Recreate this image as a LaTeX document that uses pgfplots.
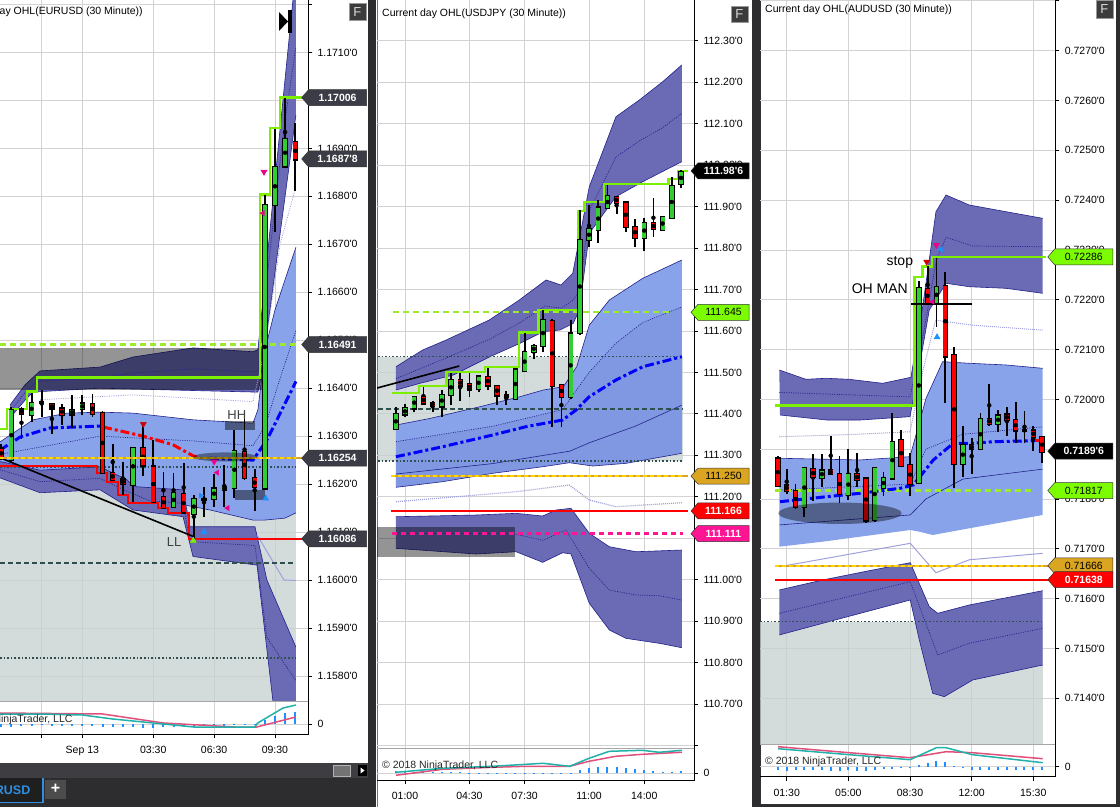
\documentclass[border=0pt]{standalone}
\usepackage{fontspec}
\setmainfont{Liberation Sans}
\usepackage{pgfplots}
\usepackage{pgfplotstable}
\pgfplotsset{compat=1.18}

\definecolor{navyf}{HTML}{6A6AB5}
\definecolor{navyl}{HTML}{22228C}
\definecolor{lblue}{HTML}{89A3EA}
\definecolor{lgrayz}{HTML}{C6D0D0}
\definecolor{cgreen}{HTML}{32CD32}
\definecolor{cred}{HTML}{FF0000}
\definecolor{limec}{HTML}{7CF000}
\definecolor{limed}{HTML}{9AEC2A}
\definecolor{limetag}{HTML}{7CFC00}
\definecolor{goldc}{HTML}{DAA520}
\definecolor{yelc}{HTML}{FFD700}
\definecolor{slate}{HTML}{2F4F4F}
\definecolor{dblue}{HTML}{0000FF}
\definecolor{tagg}{HTML}{3C3C46}
\definecolor{tealc}{HTML}{20B2AA}
\definecolor{pinkc}{HTML}{E0507A}
\definecolor{hist}{HTML}{1E90FF}
\definecolor{gridc}{HTML}{D3D3D3}
\definecolor{lav}{HTML}{A0A0DC}
\definecolor{dpink}{HTML}{FF1493}
\definecolor{uibg}{HTML}{2D2D30}
\definecolor{uiscroll}{HTML}{3E3E42}
\definecolor{tabblue}{HTML}{2F8FE0}
\definecolor{fboxc}{HTML}{3C3C3C}

\newcommand{\q}{\textquotesingle}
\newcommand{\tk}{\fontsize{10.5}{12}\selectfont}

\pgfplotsset{
 cwick/.style={only marks, mark=none, error bars/.cd, y dir=both, y explicit, error mark=none, error bar style={draw=black, line width=1.8pt}},
 cbody/.style 2 args={only marks, mark=none, error bars/.cd, y dir=both, y explicit, error mark=none, error bar style={draw=#1, line width=#2}},
 mainax/.style={scale only axis, anchor=south west, clip mode=individual,
   axis line style={draw=none}, xtick style={draw=none}, xticklabels={}, scaled ticks=false,
   ytick pos=right, yticklabel pos=right, tick align=outside, major tick length=4pt,
   ytick style={draw=black, line width=0.8pt},
   grid=major, major grid style={draw=gridc, line width=0.8pt},
   tick label style={font=\tk, text=black},
   yticklabel style={anchor=west, xshift=2pt}},
 indax/.style={scale only axis, anchor=south west, clip mode=individual,
   axis line style={draw=none}, ytick={0}, yticklabels={0}, scaled ticks=false,
   ytick pos=right, yticklabel pos=right, xtick pos=left, tick align=outside, major tick length=4pt,
   tick style={draw=black, line width=0.8pt},
   grid=major, major grid style={draw=gridc, line width=0.8pt},
   tick label style={font=\tk, text=black},
   yticklabel style={anchor=west, xshift=2pt},
   xticklabel style={yshift=-5pt}},
 bandl/.style={draw=navyl, line width=0.6pt},
 dotl/.style={draw=navyl, line width=0.7pt, dash pattern=on 1pt off 1.3pt},
 lvgreen/.style={draw=limed, line width=2.2pt, dash pattern=on 6pt off 4pt},
 lvgold/.style={draw=goldc, line width=2.4pt},
 lvyel/.style={draw=yelc, line width=2.4pt, dash pattern=on 4pt off 3pt},
 lvred/.style={draw=cred, line width=2pt},
 lvslate/.style={draw=slate, line width=1.6pt, dash pattern=on 5pt off 3pt},
 lvdot/.style={draw=slate, line width=1.6pt, dash pattern=on 1.6pt off 2pt},
 ddot/.style={line width=3pt, dash pattern=on 9pt off 3pt on 3pt off 3pt},
 stepl/.style={draw=limec, line width=2.4pt},
}

\newcommand{\candles}[3]{%
 \addplot[cwick] table[x=x,y expr={(\thisrow{h}+\thisrow{l})/2},y error expr={(\thisrow{h}-\thisrow{l})/2}]{#1};
 \addplot[cwick] table[x=x,y expr={(\thisrow{h}+\thisrow{l})/2},y error expr={(\thisrow{h}-\thisrow{l})/2}]{#2};
 \addplot[cbody={black}{5.4pt}] table[x=x,y expr={(\thisrow{o}+\thisrow{c})/2},y error expr={abs(\thisrow{c}-\thisrow{o})/2+#3}]{#1};
 \addplot[cbody={black}{5.4pt}] table[x=x,y expr={(\thisrow{o}+\thisrow{c})/2},y error expr={abs(\thisrow{c}-\thisrow{o})/2+#3}]{#2};
 \addplot[cbody={cgreen}{3.8pt}] table[x=x,y expr={(\thisrow{o}+\thisrow{c})/2},y error expr={abs(\thisrow{c}-\thisrow{o})/2}]{#1};
 \addplot[cbody={cred}{3.8pt}] table[x=x,y expr={(\thisrow{o}+\thisrow{c})/2},y error expr={abs(\thisrow{c}-\thisrow{o})/2}]{#2};
}
% x, y, fill, text colour, text, tip offset, right extent
\newcommand{\ptag}[7]{%
 \path[fill=#3, draw=black!80, line width=0.5pt] ([xshift=-#6]axis cs:#1,#2) -- ([xshift=-#6+7pt, yshift=8pt]axis cs:#1,#2) -- ([xshift=#7, yshift=8pt]axis cs:#1,#2) -- ([xshift=#7, yshift=-8pt]axis cs:#1,#2) -- ([xshift=-#6+7pt, yshift=-8pt]axis cs:#1,#2) -- cycle;
 \node[text=#4, font=\tk, inner sep=0pt] at ([xshift=(#7-#6+7pt)/2]axis cs:#1,#2) {#5};
}

% ================= EURUSD candles
\pgfplotstableread{
x o h l c
-7 1.16251 1.16362 1.16245 1.16355
-5 1.16346 1.16390 1.16331 1.16370
-1 1.16346 1.16386 1.16317 1.16355
0 1.16357 1.16386 1.16345 1.16369
5 1.16199 1.16277 1.16164 1.16275
9 1.16152 1.16223 1.16150 1.16182
11 1.16139 1.16178 1.16087 1.16169
12 1.16169 1.16195 1.16132 1.16169
13 1.16171 1.16223 1.16153 1.16192
14 1.16189 1.16240 1.16153 1.16194
15 1.16192 1.16313 1.16171 1.16268
18 1.16192 1.16804 1.16190 1.16782
19 1.16783 1.16940 1.16727 1.16862
20 1.16863 1.17006 1.16863 1.16920
}\eurUp
\pgfplotstableread{
x o h l c
-8 1.16275 1.16285 1.16250 1.16255
-6 1.16357 1.16362 1.16296 1.16348
-4 1.16372 1.16397 1.16341 1.16369
-3 1.16367 1.16369 1.16306 1.16359
-2 1.16359 1.16369 1.16324 1.16346
1 1.16369 1.16389 1.16341 1.16348
2 1.16348 1.16352 1.16220 1.16224
3 1.16224 1.16286 1.16209 1.16209
4 1.16210 1.16247 1.16178 1.16201
6 1.16276 1.16324 1.16219 1.16240
7 1.16237 1.16292 1.16164 1.16164
8 1.16174 1.16226 1.16150 1.16152
10 1.16181 1.16244 1.16143 1.16143
16 1.16268 1.16336 1.16209 1.16213
17 1.16213 1.16231 1.16143 1.16194
21 1.16914 1.16954 1.16811 1.16878
}\eurDn
% ================= USDJPY candles
\pgfplotstableread{
x o h l c
-1 111.364 111.417 111.363 111.400
0 111.400 111.426 111.394 111.414
1 111.414 111.443 111.404 111.441
4 111.418 111.458 111.393 111.446
5 111.446 111.498 111.422 111.482
8 111.460 111.492 111.454 111.490
12 111.438 111.510 111.437 111.508
13 111.504 111.595 111.503 111.550
14 111.550 111.567 111.532 111.564
15 111.566 111.651 111.551 111.627
18 111.442 111.627 111.438 111.595
19 111.595 111.892 111.590 111.819
20 111.819 111.906 111.803 111.845
21 111.845 111.916 111.813 111.898
22 111.898 111.952 111.896 111.925
26 111.825 111.875 111.794 111.861
28 111.845 111.878 111.845 111.875
29 111.874 111.972 111.872 111.950
30 111.956 111.988 111.944 111.984
}\jpyUp
\pgfplotstableread{
x o h l c
2 111.441 111.466 111.422 111.426
3 111.426 111.432 111.406 111.420
6 111.482 111.498 111.430 111.469
7 111.472 111.498 111.441 111.460
9 111.490 111.512 111.458 111.469
10 111.469 111.470 111.422 111.446
11 111.446 111.454 111.422 111.441
16 111.625 111.630 111.369 111.469
17 111.469 111.473 111.370 111.442
23 111.924 111.925 111.884 111.910
24 111.910 111.912 111.839 111.851
25 111.851 111.872 111.803 111.825
27 111.861 111.920 111.827 111.846
}\jpyDn
% ================= AUDUSD candles
\pgfplotstableread{
x o h l c
2 0.71784 0.71864 0.71764 0.71863
4 0.71845 0.71891 0.71824 0.71859
7 0.71809 0.71900 0.71799 0.71851
10 0.71758 0.71862 0.71754 0.71861
11 0.71824 0.71856 0.71807 0.71843
12 0.71843 0.71974 0.71839 0.71916
15 0.71832 0.72239 0.71830 0.72224
17 0.72195 0.72283 0.72145 0.72227
20 0.71871 0.71948 0.71845 0.71908
22 0.71901 0.71974 0.71900 0.71961
24 0.71951 0.71978 0.71934 0.71968
27 0.71939 0.71978 0.71914 0.71939
}\audUp
\pgfplotstableread{
x o h l c
-1 0.71881 0.71888 0.71825 0.71827
0 0.71827 0.71861 0.71811 0.71817
1 0.71817 0.71830 0.71781 0.71784
3 0.71861 0.71890 0.71796 0.71845
5 0.71859 0.71928 0.71849 0.71851
6 0.71851 0.71888 0.71794 0.71811
8 0.71851 0.71894 0.71825 0.71839
9 0.71841 0.71844 0.71753 0.71757
13 0.71918 0.71939 0.71865 0.71867
14 0.71869 0.71894 0.71807 0.71831
16 0.72222 0.72269 0.72192 0.72195
18 0.72229 0.72258 0.71995 0.72088
19 0.72090 0.72105 0.71823 0.71871
21 0.71908 0.71923 0.71851 0.71901
23 0.71961 0.72030 0.71946 0.71951
25 0.71970 0.71986 0.71928 0.71959
26 0.71959 0.71996 0.71914 0.71939
28 0.71939 0.71946 0.71896 0.71926
29 0.71924 0.71924 0.71874 0.71894
}\audDn

\begin{document}
\begin{tikzpicture}
\begin{scope}[x=1pt,y=1pt]
\fill[uibg] (0,0) rectangle (1120,807);
\fill[white] (0,44) rectangle (368,807);
\fill[white] (376,0) rectangle (752,807);
\fill[white] (760,2) rectangle (1116,807);
\draw[black!80, line width=1pt] (760.5,2) -- (760.5,807);
\draw[black!80, line width=1pt] (760,2.5) -- (1116,2.5);
\draw[black!55, line width=0.8pt] (377,0) -- (377,807);
\end{scope}

% ================= PANEL 1 : EURUSD =================
\begin{axis}[mainax, at={(0pt,105.3pt)}, width=308pt, height=701.7pt,
  xmin=-8.12, xmax=22.26, ymin=1.157462, ymax=1.172095,
  xtick={-4,0,7,13,19},
  ytick={1.158,1.159,1.160,1.161,1.162,1.163,1.164,1.165,1.166,1.167,1.168,1.169,1.170,1.171,1.172},
  yticklabels={1.1580\q0,1.1590\q0,1.1600\q0,1.1610\q0,1.1620\q0,1.1630\q0,1.1640\q0,1.1650\q0,1.1660\q0,1.1670\q0,1.1680\q0,1.1690\q0,1.1700\q0,1.1710\q0,{}}]
\addplot[fill=lgrayz, fill opacity=0.75, draw=none] coordinates {(-8.2,1.16254) (21.07,1.16254) (21.07,1.1570) (-8.2,1.1570)} -- cycle;
\addplot[fill=lblue, draw=none] coordinates {(-8.12,1.16288) (-4.86,1.16334) (-1.51,1.16348) (1.75,1.16350) (5.0,1.16348) (10.92,1.16334) (16.83,1.16327) (17.32,1.16355) (18.02,1.16480) (19.0,1.16563) (19.99,1.16626) (21.07,1.16694) (21.07,1.16140) (19.99,1.16129) (18.02,1.16125) (16.83,1.16125) (12.59,1.16146) (9.93,1.16157) (5.0,1.16177) (1.75,1.16213) (-3.97,1.16188) (-8.12,1.16219)} -- cycle;
\addplot[bandl] coordinates {(-8.12,1.16288) (-4.86,1.16334) (-1.51,1.16348) (1.75,1.16350) (5.0,1.16348) (10.92,1.16334) (16.83,1.16327) (17.32,1.16355) (18.02,1.16480) (19.0,1.16563) (19.99,1.16626) (21.07,1.16694)};
\addplot[bandl] coordinates {(21.07,1.16140) (19.99,1.16129) (18.02,1.16125) (16.83,1.16125) (12.59,1.16146) (9.93,1.16157) (5.0,1.16177) (1.75,1.16213) (-3.97,1.16188) (-8.12,1.16219)};
\addplot[fill=navyf, draw=none] coordinates {(-7.13,1.16365) (-5.65,1.16407) (-4.17,1.16436) (1.75,1.16444) (5.0,1.16465) (10.92,1.16484) (16.83,1.16476) (17.32,1.16480) (18.02,1.16626) (19.0,1.16834) (19.99,1.17043) (21.07,1.17272) (21.07,1.16970) (20.48,1.16876) (19.49,1.16719) (18.51,1.16563) (17.52,1.16411) (17.32,1.16392) (16.83,1.16392) (1.75,1.16400) (-4.86,1.16392) (-5.65,1.16375) (-7.13,1.16338)} -- cycle;
\addplot[bandl] coordinates {(-7.13,1.16365) (-5.65,1.16407) (-4.17,1.16436) (1.75,1.16444) (5.0,1.16465) (10.92,1.16484) (16.83,1.16476) (17.32,1.16480) (18.02,1.16626) (19.0,1.16834) (19.99,1.17043) (21.07,1.17272)};
\addplot[bandl] coordinates {(21.07,1.16970) (20.48,1.16876) (19.49,1.16719) (18.51,1.16563) (17.52,1.16411) (17.32,1.16392) (16.83,1.16392) (1.75,1.16400) (-4.86,1.16392) (-5.65,1.16375) (-7.13,1.16338)};
\addplot[fill=navyf, draw=none] coordinates {(-8.12,1.16247) (-4.17,1.16229) (1.75,1.16236) (4.41,1.16209) (5.0,1.16195) (9.93,1.16188) (10.62,1.16111) (17.03,1.16111) (18.21,1.16000) (21.07,1.15860) (21.07,1.15708) (18.81,1.15746) (17.23,1.16031) (10.92,1.16049) (9.93,1.16132) (5.0,1.16146) (1.75,1.16188) (-4.17,1.16182) (-8.12,1.16213)} -- cycle;
\addplot[bandl] coordinates {(-8.12,1.16247) (-4.17,1.16229) (1.75,1.16236) (4.41,1.16209) (5.0,1.16195) (9.93,1.16188) (10.62,1.16111) (17.03,1.16111) (18.21,1.16000) (21.07,1.15860)};
\addplot[bandl] coordinates {(21.07,1.15708) (18.81,1.15746) (17.23,1.16031) (10.92,1.16049) (9.93,1.16132) (5.0,1.16146) (1.75,1.16188) (-4.17,1.16182) (-8.12,1.16213)};
\addplot[fill=black, fill opacity=0.42, draw=none] coordinates {(-8.2,1.164838) (17.72,1.164838) (17.72,1.163962) (-8.2,1.163962)} -- cycle;
\addplot[dotl] coordinates {(-7.13,1.16351) (-5.65,1.16391) (-4.47,1.16414) (1.75,1.16422) (5,1.16432) (10.92,1.16440) (16.83,1.16434) (17.32,1.16436) (18.02,1.16590) (19,1.16780) (20,1.16960) (21.07,1.17112)};
\addplot[draw=lav, line width=0.8pt, dash pattern=on 1pt off 1.3pt] coordinates {(-4.17,1.16376) (5,1.16386) (16.83,1.16372) (18.0,1.16480) (19.5,1.16700) (21.07,1.16820)};
\addplot[dotl] coordinates {(-8.12,1.16230) (-4.17,1.16205) (1.75,1.16212) (4.41,1.16185) (6.68,1.16165) (9.93,1.16160) (10.62,1.16080) (17.03,1.16072) (18.21,1.15880) (21.07,1.15790)};
\addplot[dotl] coordinates {(-8.12,1.16262) (1.75,1.16300) (10.92,1.16290) (16.83,1.16280) (18.02,1.16320) (19.5,1.16420) (21.07,1.16520)};
\addplot[draw=lav, line width=1pt] coordinates {(17.23,1.16094) (19.89,1.16000) (21.07,1.15999)};
\addplot[lvdot] coordinates {(-8.12,1.16236) (21.07,1.16236)};
\addplot[lvdot] coordinates {(-8.12,1.15837) (21.07,1.15837)};
\addplot[lvslate] coordinates {(-8.12,1.16035) (21.07,1.16035)};
\addplot[lvgreen] coordinates {(-8.12,1.16491) (21.07,1.16491)};
\addplot[ddot, draw=dblue] coordinates {(-8.12,1.16271) (-6.14,1.16298) (-3.19,1.16317) (1.75,1.16321) (2.04,1.16319)};
\addplot[ddot, draw=cred] coordinates {(2.04,1.16319) (5.99,1.16300) (8.94,1.16282) (10.92,1.16259) (11.6,1.16254)};
\addplot[ddot, draw=dblue] coordinates {(12.59,1.16254) (16.83,1.16250) (18.21,1.16292) (21.07,1.16414)};
\addplot[lvred] coordinates {(-8.12,1.16238) (1.42,1.16238) (1.42,1.16223) (2.41,1.16223) (2.41,1.16205) (3.55,1.16205) (3.55,1.16177) (4.54,1.16177) (4.54,1.16160) (7.5,1.16160) (7.5,1.16150) (8.48,1.16150) (8.48,1.16140) (10.52,1.16140) (10.52,1.16086) (21.64,1.16086)};
\addplot[black, line width=1.6pt] coordinates {(-8.12,1.16255) (10.92,1.16091)};
\addplot[stepl] coordinates {(-8.12,1.16315) (-7.43,1.16315) (-7.43,1.16357) (-5.45,1.16357) (-5.45,1.16393) (-4.47,1.16393) (-4.47,1.16422) (17.52,1.16422) (17.52,1.16804) (18.51,1.16804) (18.51,1.16942) (19.49,1.16942) (19.49,1.17006) (21.67,1.17006)};
\addplot[fill=black, fill opacity=0.45, draw=none] coordinates {(14.07,1.16332) (17.03,1.16332) (17.03,1.16313) (14.07,1.16313)} -- cycle;
\addplot[fill=black, fill opacity=0.45, draw=none] coordinates {(15.06,1.16188) (18.02,1.16188) (18.02,1.16167) (15.06,1.16167)} -- cycle;
\candles{\eurUp}{\eurDn}{0.000025}
\addplot[lvgold] coordinates {(-8.12,1.16254) (21.67,1.16254)};
\addplot[lvyel] coordinates {(-8.12,1.16254) (21.07,1.16254)};
\fill[black, fill opacity=0.4] (axis cs:14.07,1.162566) ellipse [x radius=32pt, y radius=4.5pt];
\addplot[only marks, mark=triangle*, mark size=3.5pt, mark options={fill=magenta, draw=magenta, rotate=180}] coordinates {(17.92,1.16851) (13.0,1.16247)};
\addplot[only marks, mark=triangle*, mark size=3pt, mark options={fill=magenta, draw=magenta, rotate=90}] coordinates {(17.82,1.16765) (13.3,1.16224) (14.33,1.16150)};
\addplot[only marks, mark=triangle*, mark size=3.5pt, mark options={fill=hist, draw=hist}] coordinates {(12.0,1.16100) (18.09,1.16170)};
\addplot[only marks, mark=triangle*, mark size=3pt, mark options={fill=hist, draw=hist, rotate=-90}] coordinates {(11.68,1.16176)};
\addplot[only marks, mark=triangle*, mark size=3.5pt, mark options={fill=red!80!black, draw=red!80!black, rotate=180}] coordinates {(6.02,1.16325)};
\addplot[only marks, mark=triangle*, mark size=3.5pt, mark options={fill=limec, draw=limec}] coordinates {(10.95,1.16082)};
\node[text=black!75, font=\fontsize{13}{13}\selectfont] at (axis cs:15.24,1.16345) {HH};
\node[text=black!75, font=\fontsize{13}{13}\selectfont] at (axis cs:9.05,1.16079) {LL};
\draw[black, line width=0.8pt] (rel axis cs:1,0) -- (rel axis cs:1,1);
\ptag{22.26}{1.17006}{tagg}{white}{\bfseries 1.17006}{6.3pt}{58.5pt}
\ptag{22.26}{1.16878}{tagg}{white}{\bfseries 1.1687\q8}{6.3pt}{58.5pt}
\ptag{22.26}{1.16491}{tagg}{white}{\bfseries 1.16491}{6.3pt}{58.5pt}
\ptag{22.26}{1.16254}{tagg}{white}{\bfseries 1.16254}{6.3pt}{58.5pt}
\ptag{22.26}{1.16086}{tagg}{white}{\bfseries 1.16086}{6.3pt}{58.5pt}
\end{axis}
\begin{axis}[indax, at={(0pt,73pt)}, width=308pt, height=32.3pt,
  xmin=-8.12, xmax=22.26, ymin=-10, ymax=22.3,
  xtick={-4,0,7,13,19}, xticklabels={{},Sep 13,03:30,06:30,09:30}]
\addplot[ycomb, draw=hist, line width=2pt] coordinates {(-8,-3) (-7,-3) (-6,-2) (-5,-2) (-4,-1) (-3,-2) (-2,-2) (-1,-2) (0,-2) (1,-2) (2,-3) (3,-3) (4,-3) (5,-3) (6,-4) (7,-4) (8,-3) (9,-3) (10,-3) (11,-3) (12,-2) (13,-2) (14,-2) (15,-1) (16,-1) (17,-1) (18,4) (19,8) (20,11) (21,12)};
\addplot[pinkc, line width=1.5pt] coordinates {(-8.12,11) (2,10) (8,1) (15,-3) (17.2,-3) (21.07,7)};
\addplot[tealc, line width=1.5pt] coordinates {(-8.12,10) (-4,10) (0,9) (3,5) (6,2) (9,-1) (11,-3) (17,-3) (17.3,1) (19.8,16) (21.07,19)};
\draw[black, line width=0.8pt] (rel axis cs:0,0) -- (rel axis cs:1,0) -- (rel axis cs:1,1);
\draw[black!35, line width=0.8pt] (rel axis cs:0,1) -- (rel axis cs:1,1);
\end{axis}

% ================= PANEL 2 : USDJPY =================
\begin{axis}[mainax, at={(377pt,58.7pt)}, width=317pt, height=748.3pt,
  xmin=-3.043, xmax=31.41, ymin=110.5934, ymax=112.3982,
  xtick={0,7,13,20,26},
  ytick={110.6,110.7,110.8,110.9,111.0,111.1,111.2,111.3,111.4,111.5,111.6,111.7,111.8,111.9,112.0,112.1,112.2,112.3},
  yticklabels={{},110.70\q0,110.80\q0,110.90\q0,111.00\q0,111.10\q0,111.20\q0,111.30\q0,111.40\q0,111.50\q0,111.60\q0,111.70\q0,111.80\q0,111.90\q0,112.00\q0,112.10\q0,112.20\q0,112.30\q0}]
\addplot[fill=lgrayz, fill opacity=0.75, draw=none] coordinates {(-2.93,111.5379) (30.22,111.5379) (30.22,111.2863) (-2.93,111.2863)} -- cycle;
\addplot[fill=lblue, draw=none] coordinates {(-0.98,111.3731) (2.72,111.389) (8.15,111.4173) (12.5,111.4414) (15.03,111.4575) (17.21,111.4655) (18.66,111.5137) (20.03,111.614) (22.21,111.6746) (25.84,111.727) (30.08,111.771) (30.08,111.3049) (24.02,111.2807) (20.4,111.2742) (17.86,111.2822) (14.97,111.2725) (9.53,111.2566) (4.1,111.2364) (-0.98,111.2229)} -- cycle;
\addplot[fill=navyl, fill opacity=0.08, draw=none] coordinates {(-0.98,111.333) (9.5,111.37) (17.1,111.41) (20,111.50) (22.9,111.57) (25.8,111.62) (30.08,111.658) (30.08,111.3049) (24.02,111.2807) (20.4,111.2742) (17.86,111.2822) (14.97,111.2725) (9.53,111.2566) (4.1,111.2364) (-0.98,111.2229)} -- cycle;
\addplot[bandl] coordinates {(-0.98,111.3731) (2.72,111.389) (8.15,111.4173) (12.5,111.4414) (15.03,111.4575) (17.21,111.4655) (18.66,111.5137) (20.03,111.614) (22.21,111.6746) (25.84,111.727) (30.08,111.771)};
\addplot[bandl] coordinates {(30.08,111.3049) (24.02,111.2807) (20.4,111.2742) (17.86,111.2822) (14.97,111.2725) (9.53,111.2566) (4.1,111.2364) (-0.98,111.2229)};
\addplot[fill=navyf, draw=none] coordinates {(-0.98,111.5137) (1.92,111.554) (4.46,111.578) (9.16,111.6264) (12.42,111.6746) (15.33,111.7229) (16.96,111.7108) (18.23,111.739) (20.03,111.9479) (22.93,112.1167) (25.47,112.157) (28.01,112.2012) (30.08,112.2414) (30.08,112.0082) (25.84,111.96) (22.93,111.9238) (20.03,111.8355) (18.95,111.6505) (18.29,111.6184) (16.85,111.6023) (15.03,111.5982) (12.5,111.5702) (9.24,111.5379) (5.25,111.4937) (1.63,111.4737) (-0.98,111.4575)} -- cycle;
\addplot[bandl] coordinates {(-0.98,111.5137) (1.92,111.554) (4.46,111.578) (9.16,111.6264) (12.42,111.6746) (15.33,111.7229) (16.96,111.7108) (18.23,111.739) (20.03,111.9479) (22.93,112.1167) (25.47,112.157) (28.01,112.2012) (30.08,112.2414)};
\addplot[bandl] coordinates {(30.08,112.0082) (25.84,111.96) (22.93,111.9238) (20.03,111.8355) (18.95,111.6505) (18.29,111.6184) (16.85,111.6023) (15.03,111.5982) (12.5,111.5702) (9.24,111.5379) (5.25,111.4937) (1.63,111.4737) (-0.98,111.4575)};
\addplot[fill=navyf, draw=none] coordinates {(-0.98,111.1519) (7.72,111.156) (12.07,111.1601) (14.97,111.1536) (16.41,111.1681) (18.04,111.1722) (20.03,111.1119) (22.21,111.0796) (25.11,111.0675) (30.08,111.0716) (30.08,110.836) (27.64,110.8466) (24.02,110.8586) (22.21,110.8787) (20.03,110.9431) (18.04,111.062) (17.14,111.0651) (14.97,111.042) (12.07,111.0675) (7.72,111.062) (-0.98,111.0757)} -- cycle;
\addplot[bandl] coordinates {(-0.98,111.1519) (7.72,111.156) (12.07,111.1601) (14.97,111.1536) (16.41,111.1681) (18.04,111.1722) (20.03,111.1119) (22.21,111.0796) (25.11,111.0675) (30.08,111.0716)};
\addplot[bandl] coordinates {(30.08,110.836) (27.64,110.8466) (24.02,110.8586) (22.21,110.8787) (20.03,110.9431) (18.04,111.062) (17.14,111.0651) (14.97,111.042) (12.07,111.0675) (7.72,111.062) (-0.98,111.0757)};
\addplot[fill=black, fill opacity=0.42, draw=none] coordinates {(-3.2,111.1278) (11.96,111.1278) (11.96,111.054) (-3.2,111.054)} -- cycle;
\addplot[dotl] coordinates {(-0.98,111.485) (4.5,111.535) (9.2,111.58) (12.5,111.62) (15.2,111.66) (17,111.655) (18.3,111.675) (19,111.70) (20.03,111.89) (22.93,112.02) (25.6,112.06) (28,112.09) (30.08,112.125)};
\addplot[dotl] coordinates {(-0.98,111.1134) (12,111.11) (15,111.095) (17.5,111.1199) (20.03,111.0275) (22.21,110.9751) (25.11,110.9631) (27.64,110.9614) (30.08,110.951)};
\addplot[dotl] coordinates {(-0.98,111.333) (9.5,111.37) (17.1,111.41) (20,111.50) (22.9,111.57) (25.8,111.62) (30.08,111.658)};
\addplot[bandl] coordinates {(-0.98,111.255) (9.5,111.28) (17.9,111.31) (20,111.33) (25,111.37) (30.08,111.421)};
\addplot[draw=lav, line width=1.2pt, dash pattern=on 1pt off 1pt] coordinates {(-0.98,111.1881) (12.07,111.2122) (17.86,111.2284) (20.03,111.1922) (22.93,111.1761) (30.08,111.1857)};
\addplot[lvdot] coordinates {(-2.93,111.5379) (30.22,111.5379)};
\addplot[lvdot] coordinates {(-2.93,111.2863) (30.22,111.2863)};
\addplot[lvslate] coordinates {(-2.93,111.4117) (30.22,111.4117)};
\addplot[lvgreen] coordinates {(-1.30,111.645) (29.13,111.645)};
\addplot[ddot, draw=dblue] coordinates {(-0.98,111.2967) (4.1,111.3208) (9.53,111.349) (13.15,111.3691) (17.14,111.3852) (18.59,111.4093) (20.03,111.4414) (22.93,111.4817) (25.84,111.5137) (30.08,111.5379)};
\addplot[lvred] coordinates {(-1.52,111.166) (30.76,111.166)};
\addplot[draw=dpink, line width=2.4pt, dash pattern=on 5pt off 4pt] coordinates {(-1.41,111.111) (30.22,111.111)};
\addplot[black, line width=1.6pt] coordinates {(-3.15,111.4617) (5.9,111.5154)};
\addplot[stepl] coordinates {(-1.45,111.451) (1.55,111.451) (1.55,111.4672) (4.53,111.4672) (4.53,111.5017) (8.7,111.5017) (8.7,111.5137) (12.42,111.5137) (12.42,111.5958) (14.49,111.5958) (14.49,111.6505) (18.8,111.6505) (18.8,111.89) (19.49,111.89) (19.49,111.9103) (21.66,111.9103) (21.66,111.9537) (28.62,111.9537) (28.62,111.9665) (29.64,111.9665) (29.64,111.986) (30.73,111.986)};
\candles{\jpyUp}{\jpyDn}{0.003}
\addplot[lvgold] coordinates {(-1.52,111.250) (30.76,111.250)};
\addplot[lvyel] coordinates {(-1.52,111.250) (30.22,111.250)};
\draw[black, line width=0.8pt] (rel axis cs:1,0) -- (rel axis cs:1,1);
\ptag{31.41}{111.986}{black}{white}{\bfseries 111.98\q6}{3pt}{55pt}
\ptag{31.41}{111.645}{limetag}{black}{111.645}{3pt}{55pt}
\ptag{31.41}{111.250}{goldc}{black}{111.250}{3pt}{55pt}
\ptag{31.41}{111.166}{cred}{white}{\bfseries 111.166}{3pt}{55pt}
\ptag{31.41}{111.111}{dpink}{white}{\bfseries 111.111}{3pt}{55pt}
\end{axis}
\begin{axis}[indax, at={(377pt,27pt)}, width=317pt, height=31.7pt,
  xmin=-3.043, xmax=31.41, ymin=-6.7, ymax=25,
  xtick={0,7,13,20,26}, xticklabels={01:00,04:30,07:30,11:00,14:00}]
\addplot[ycomb, draw=hist, line width=2pt] coordinates {(-1,2) (0,2) (1,1) (2,1) (3,1) (4,1) (5,1) (6,1) (7,0.5) (8,0.5) (9,0.5) (10,0.5) (11,0.5) (12,0.5) (13,0.5) (14,-0.5) (15,-0.5) (16,-1) (17,-1) (18,-0.5) (19,3) (20,5) (21,6) (22,6) (23,6) (24,5) (25,4) (26,3) (27,2) (28,1) (29,1) (30,2)};
\addplot[pinkc, line width=1.5pt] coordinates {(-1,-2) (4.1,4) (9.5,6) (13.2,7) (17.9,7) (20,12) (22.9,17) (25.8,19) (30.08,21)};
\addplot[tealc, line width=1.5pt] coordinates {(-1,1) (4.1,5) (9.5,7) (15,10) (17.9,7) (20,15) (22.2,22) (25.8,23) (27.6,21) (30.08,23)};
\draw[black, line width=0.8pt] (rel axis cs:0,0) -- (rel axis cs:1,0) -- (rel axis cs:1,1);
\draw[black!35, line width=0.8pt] (rel axis cs:0,1) -- (rel axis cs:1,1);
\end{axis}

% ================= PANEL 3 : AUDUSD =================
\begin{axis}[mainax, at={(760pt,62.7pt)}, width=295.3pt, height=744.3pt,
  xmin=-3.032, xmax=30.50, ymin=0.713076, ymax=0.728018,
  xtick={0,7,14,21,28},
  ytick={0.714,0.715,0.716,0.717,0.718,0.719,0.720,0.721,0.722,0.723,0.724,0.725,0.726,0.727,0.728},
  yticklabels={0.7140\q0,0.7150\q0,0.7160\q0,0.7170\q0,0.7180\q0,0.7190\q0,0.7200\q0,0.7210\q0,0.7220\q0,0.7230\q0,0.7240\q0,0.7250\q0,0.7260\q0,0.7270\q0,{}}]
\addplot[fill=lgrayz, fill opacity=0.75, draw=none] coordinates {(-3.1,0.715538) (29.1,0.715538) (29.1,0.7128) (-3.1,0.7128)} -- cycle;
\addplot[fill=lblue, draw=none] coordinates {(-0.84,0.718818) (4.54,0.718798) (8.32,0.718784) (14.0,0.71885) (15.82,0.720022) (17.71,0.720757) (20.73,0.720725) (24.9,0.720691) (29.07,0.720624) (29.07,0.71768) (20.73,0.717412) (16.58,0.717278) (15.06,0.717344) (14.03,0.717378) (4.09,0.717144) (-0.84,0.717043)} -- cycle;
\addplot[bandl] coordinates {(-0.84,0.718818) (4.54,0.718798) (8.32,0.718784) (14.0,0.71885) (15.82,0.720022) (17.71,0.720757) (20.73,0.720725) (24.9,0.720691) (29.07,0.720624)};
\addplot[fill=navyf, draw=none] coordinates {(-0.84,0.72059) (2.19,0.720403) (4.46,0.720424) (7.11,0.720403) (10.9,0.720323) (14.11,0.720444) (15.44,0.721861) (16.95,0.723768) (18.09,0.724103) (20.73,0.723902) (24.9,0.723768) (29.07,0.723635) (29.07,0.72213) (24.9,0.72223) (20.73,0.722262) (18.09,0.722331) (16.19,0.721795) (15.06,0.720656) (14.0,0.719653) (8.32,0.719586) (4.54,0.719586) (-0.76,0.719687)} -- cycle;
\addplot[bandl] coordinates {(-0.84,0.72059) (2.19,0.720403) (4.46,0.720424) (7.11,0.720403) (10.9,0.720323) (14.11,0.720444) (15.44,0.721861) (16.95,0.723768) (18.09,0.724103) (20.73,0.723902) (24.9,0.723768) (29.07,0.723635)};
\addplot[bandl] coordinates {(29.07,0.72213) (24.9,0.72223) (20.73,0.722262) (18.09,0.722331) (16.19,0.721795) (15.06,0.720656) (14.0,0.719653) (8.32,0.719586) (4.54,0.719586) (-0.76,0.719687)};
\addplot[fill=navyf, draw=none] coordinates {(-0.84,0.716174) (4.09,0.716375) (9.77,0.716575) (14.03,0.716722) (16.19,0.715839) (17.15,0.715706) (20.73,0.715873) (29.07,0.71616) (29.07,0.714668) (21.12,0.714367) (17.9,0.714032) (16.58,0.7141) (15.06,0.71517) (14.03,0.715973) (9.77,0.715772) (4.09,0.715505) (-0.84,0.715271)} -- cycle;
\addplot[bandl] coordinates {(-0.84,0.716174) (4.09,0.716375) (9.77,0.716575) (14.03,0.716722) (16.19,0.715839) (17.15,0.715706) (20.73,0.715873) (29.07,0.71616)};
\addplot[bandl] coordinates {(29.07,0.714668) (21.12,0.714367) (17.9,0.714032) (16.58,0.7141) (15.06,0.71517) (14.03,0.715973) (9.77,0.715772) (4.09,0.715505) (-0.84,0.715271)};
\addplot[dotl] coordinates {(-0.84,0.72014) (14,0.72005) (15.5,0.7213) (17,0.7228) (18.09,0.723254) (21.12,0.723079) (29.07,0.723065)};
\addplot[dotl] coordinates {(-0.84,0.715706) (14.03,0.71634) (17.15,0.714869) (20.73,0.715104) (29.07,0.715405)};
\addplot[bandl] coordinates {(-0.84,0.71748) (14.03,0.71768) (15.8,0.71800) (20,0.71840) (29.07,0.71860)};
\addplot[dotl] coordinates {(-0.84,0.71818) (14.03,0.71830) (15.8,0.71900) (20,0.71930) (29.07,0.71945)};
\addplot[draw=lav, line width=1pt, dash pattern=on 1pt off 1pt] coordinates {(-0.84,0.71925) (8,0.7193) (14,0.71935) (15.5,0.7206) (16.9,0.72159) (21.12,0.72149) (29.07,0.72139)};
\addplot[draw=lav, line width=1pt] coordinates {(-0.84,0.71664) (14.03,0.717111) (16.95,0.71652) (20.73,0.71678) (29.07,0.71691)};
\addplot[lvdot] coordinates {(-3.03,0.715538) (29.1,0.715538)};
\addplot[lvgreen] coordinates {(-1.33,0.71817) (28.19,0.71817)};
\addplot[ddot, draw=dblue] coordinates {(-0.76,0.717946) (4.54,0.718047) (8.32,0.718115) (12.86,0.718215) (14.37,0.718282) (16.65,0.718784) (18.92,0.719119) (21.19,0.719119) (23.46,0.719151) (28.2,0.71917)};
\addplot[draw=cred, line width=3pt] coordinates {(28.2,0.71917) (29.1,0.71917)};
\addplot[lvred] coordinates {(-1.33,0.71638) (29.9,0.71638)};
\addplot[stepl] coordinates {(-1.33,0.71988) (14.49,0.71988) (14.49,0.722463) (15.44,0.722463) (15.44,0.722664) (16.5,0.722664) (16.5,0.72286) (29.44,0.72286)};
\candles{\audUp}{\audDn}{0.000025}
\addplot[lvgold] coordinates {(-1.33,0.71666) (29.9,0.71666)};
\addplot[lvyel] coordinates {(-1.33,0.71666) (29.1,0.71666)};
\addplot[black, line width=1.8pt] coordinates {(14.11,0.721909) (21.04,0.721909)};
\fill[black, fill opacity=0.4] (axis cs:6.05,0.717714) ellipse [x radius=61.7pt, y radius=10.7pt];
\addplot[only marks, mark=triangle*, mark size=3.5pt, mark options={fill=magenta, draw=magenta, rotate=180}] coordinates {(16.99,0.7231)};
\addplot[only marks, mark=triangle*, mark size=3pt, mark options={fill=magenta, draw=magenta, rotate=90}] coordinates {(16.58,0.72196)};
\addplot[only marks, mark=triangle*, mark size=3.5pt, mark options={fill=hist, draw=hist}] coordinates {(17.07,0.72125)};
\addplot[only marks, mark=triangle*, mark size=3pt, mark options={fill=hist, draw=hist, rotate=90}] coordinates {(17.5,0.72301)};
\addplot[only marks, mark=triangle*, mark size=3.5pt, mark options={fill=red!80!black, draw=red!80!black, rotate=180}] coordinates {(15.9,0.72276)};
\node[anchor=east, font=\fontsize{14}{14}\selectfont, inner sep=0] at (axis cs:14.37,0.72274) {stop};
\node[anchor=east, font=\fontsize{14}{14}\selectfont, inner sep=0] at (axis cs:13.77,0.72222) {OH MAN};
\draw[black, line width=0.8pt] (rel axis cs:1,0) -- (rel axis cs:1,1);
\ptag{30.50}{0.72286}{limetag}{black}{0.72286}{7.5pt}{57.5pt}
\ptag{30.50}{0.71896}{black}{white}{\bfseries 0.7189\q6}{7.5pt}{57.5pt}
\ptag{30.50}{0.71817}{limetag}{black}{0.71817}{7.5pt}{57.5pt}
\ptag{30.50}{0.71666}{goldc}{black}{0.71666}{7.5pt}{57.5pt}
\ptag{30.50}{0.71638}{cred}{white}{\bfseries 0.71638}{7.5pt}{57.5pt}
\end{axis}
\begin{axis}[indax, at={(760pt,30.3pt)}, width=295.3pt, height=32.4pt,
  xmin=-3.032, xmax=30.50, ymin=-10, ymax=22.4,
  xtick={0,7,14,21,28}, xticklabels={01:30,05:00,08:30,12:00,15:30}]
\addplot[ycomb, draw=hist, line width=2pt] coordinates {(-1,-3) (0,-4) (1,-3) (2,-3) (3,-3) (4,-3) (5,-4) (6,-4) (7,-3) (8,-4) (9,-4) (10,-3) (11,-2) (12,-2) (13,-1) (14,-1) (15,2) (16,4) (17,6) (18,5) (19,0.5) (20,-1) (21,-3) (22,-3) (23,-3) (24,-3) (25,-3) (26,-3) (27,-3) (28,-3) (29,-3)};
\addplot[pinkc, line width=1.5pt] coordinates {(-1,20) (7.1,14) (14,9) (18.1,15) (21.1,14) (29.07,8)};
\addplot[tealc, line width=1.5pt] coordinates {(-1,18) (7.1,12) (14,7) (17,19) (18.1,19) (21.1,12) (29.07,4)};
\draw[black, line width=0.8pt] (rel axis cs:0,0) -- (rel axis cs:1,0) -- (rel axis cs:1,1);
\draw[black!35, line width=0.8pt] (rel axis cs:0,1) -- (rel axis cs:1,1);
\end{axis}

% ================= UI overlay =================
\begin{scope}[x=1pt,y=1pt]
\node[anchor=west, inner sep=0, font=\tk] at (-0.5,795.5) {ay OHL(EURUSD (30 Minute))};
\node[anchor=west, inner sep=0, font=\tk] at (382,793.7) {Current day OHL(USDJPY (30 Minute))};
\node[anchor=west, inner sep=0, font=\tk] at (765,797.7) {Current day OHL(AUDUSD (30 Minute))};
\node[anchor=east, inner sep=0, font=\tk, text=black!85] at (72.7,87) {© 2018 NinjaTrader, LLC};
\node[anchor=west, inner sep=0, font=\tk, text=black!85] at (382,41) {© 2018 NinjaTrader, LLC};
\node[anchor=west, inner sep=0, font=\tk, text=black!85] at (765,45.3) {© 2018 NinjaTrader, LLC};
\fill[fboxc, draw=black!40] (349,787) rectangle (365.7,803.7);
\node[text=white!85!black, font=\fontsize{13}{13}\selectfont] at (357.3,795.3) {F};
\fill[fboxc, draw=black!40] (731,784.3) rectangle (747.7,801);
\node[text=white!85!black, font=\fontsize{13}{13}\selectfont] at (739.3,792.6) {F};
\fill[fboxc, draw=black!40] (1096,788.7) rectangle (1112.7,806.5);
\node[text=white!85!black, font=\fontsize{13}{13}\selectfont] at (1104.3,797.6) {F};
\fill[black] (279,795) -- (279,776) -- (288,785.5) -- cycle;
\fill[black] (288,774) rectangle (292,797);
\fill[uiscroll] (0,29) rectangle (368,44);
\fill[black!55, draw=black!30] (333,30.5) rectangle (350,42);
\fill[black] (358,31) rectangle (367,42);
\fill[white] (360.5,33.5) -- (360.5,39.5) -- (364.5,36.5) -- cycle;
\fill[black!88] (0,4) rectangle (43,29);
\draw[tabblue, line width=1.2pt] (0,4.6) -- (43,4.6) -- (43,29);
\node[anchor=east, text=tabblue, font=\bfseries\fontsize{12.5}{14}\selectfont, inner sep=0] at (30.5,17) {EURUSD};
\fill[black!70] (45,8) rectangle (66,27);
\node[text=white, font=\bfseries\fontsize{16}{16}\selectfont] at (55.5,17.8) {+};
\pgfresetboundingbox
\useasboundingbox (0,0) rectangle (1120,807);
\end{scope}
\end{tikzpicture}
\end{document}
